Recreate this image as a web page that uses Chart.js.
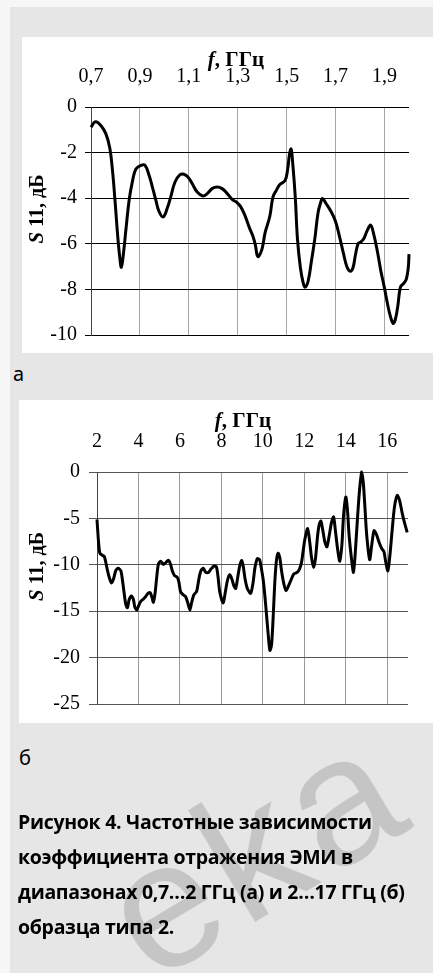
<!DOCTYPE html>
<html>
<head>
<meta charset="utf-8">
<script src="https://cdn.jsdelivr.net/npm/chart.js@4.4.1/dist/chart.umd.min.js"></script>
<style>
  html, body { margin: 0; padding: 0; }
  body { width: 433px; height: 973px; background: #f7f7f7; position: relative; overflow: hidden; }
  #page { position: absolute; left: 10px; top: 7px; right: 0; bottom: 0; background: #e6e6e6; }
  .panel { position: absolute; background: #fff; }
  #panelA { left: 22px; top: 37px; width: 411px; height: 316px; }
  #panelB { left: 19px; top: 400px; width: 414px; height: 323px; }
  #wm { position: absolute; left: 0; top: 0; }
  .sub { position: absolute; font-family: "Noto Sans"; font-size: 20px; line-height: 20px; color: #000; }
  #caption { position: absolute; left: 18px; top: 804px; font-family: "Open Sans"; font-weight: bold;
             font-size: 19.5px; line-height: 35px; letter-spacing: -0.3px; color: #000; white-space: nowrap; }
</style>
</head>
<body>
<div id="page"></div>
<div class="panel" id="panelA"><canvas id="chartA" width="411" height="316"></canvas></div>
<div class="sub" style="left:13px; top:364px;">а</div>
<div class="panel" id="panelB"><canvas id="chartB" width="414" height="323"></canvas></div>
<div class="sub" style="left:19px; top:748px;">б</div>
<canvas id="wm" width="433" height="973"></canvas>
<div id="caption">Рисунок 4. Частотные зависимости<br>коэффициента отражения ЭМИ в<br>диапазонах 0,7…2 ГГц (а) и 2…17 ГГц (б)<br>образца типа 2.</div>

<script>
// --- (а) 0,7…2 ГГц ---
const freqA = [0.700, 0.718, 0.741, 0.761, 0.777, 0.788, 0.799, 0.809, 0.818, 0.824, 0.832, 0.843, 0.856, 0.870, 0.883,
  0.904, 0.921, 0.938, 0.951, 0.965, 0.978, 0.995, 1.012, 1.026, 1.043, 1.062, 1.080, 1.098, 1.114, 1.134, 1.157,
  1.175, 1.195, 1.216, 1.236, 1.257, 1.277, 1.297, 1.311, 1.328, 1.347, 1.361, 1.372, 1.379, 1.385, 1.399, 1.412,
  1.431, 1.444, 1.458, 1.472, 1.493, 1.504, 1.511, 1.518, 1.525, 1.535, 1.544, 1.556, 1.567, 1.576, 1.588, 1.601,
  1.615, 1.628, 1.639, 1.646, 1.660, 1.681, 1.699, 1.715, 1.732, 1.747, 1.760, 1.771, 1.781, 1.792, 1.803, 1.815,
  1.829, 1.843, 1.854, 1.871, 1.885, 1.899, 1.913, 1.924, 1.935, 1.944, 1.954, 1.965, 1.979, 1.989, 1.997, 2.000];
const s11A = [-0.89, -0.65, -0.82, -1.18, -1.81, -2.80, -4.22, -5.64, -6.63, -7.03, -6.49, -5.35, -4.08, -3.23, -2.73,
  -2.56, -2.56, -3.02, -3.51, -4.08, -4.58, -4.82, -4.43, -3.94, -3.30, -2.99, -2.95, -3.09, -3.37, -3.73, -3.90,
  -3.80, -3.58, -3.51, -3.58, -3.80, -4.05, -4.19, -4.36, -4.72, -5.28, -5.64, -6.06, -6.49, -6.56, -6.23, -5.50,
  -4.79, -3.94, -3.65, -3.40, -3.23, -2.73, -2.10, -1.84, -2.52, -3.94, -5.78, -7.05, -7.69, -7.90, -7.62, -6.77,
  -5.78, -4.65, -4.19, -4.01, -4.22, -4.58, -5.00, -5.64, -6.42, -7.03, -7.20, -7.05, -6.49, -5.99, -5.92, -5.78,
  -5.42, -5.18, -5.50, -6.35, -7.20, -7.90, -8.68, -9.18, -9.49, -9.32, -8.75, -7.90, -7.73, -7.55, -7.05, -6.45];
const xTicksA = [0.7, 0.9, 1.1, 1.3, 1.5, 1.7, 1.9];
const xLabelsA = ['0,7', '0,9', '1,1', '1,3', '1,5', '1,7', '1,9'];
const yTicksA = [0, -2, -4, -6, -8, -10];
const yLabelsA = ['0', '-2', '-4', '-6', '-8', '-10'];

// --- (б) 2…17 ГГц ---
const freqB = [2.00, 2.03, 2.08, 2.14, 2.27, 2.35, 2.43, 2.51, 2.61, 2.70, 2.80, 2.90, 3.02, 3.15, 3.23, 3.31, 3.39,
  3.47, 3.55, 3.66, 3.76, 3.82, 3.92, 4.03, 4.11, 4.24, 4.35, 4.46, 4.56, 4.64, 4.72, 4.80, 4.88, 4.96, 5.07, 5.20,
  5.31, 5.44, 5.55, 5.63, 5.74, 5.87, 5.95, 6.03, 6.16, 6.27, 6.38, 6.48, 6.56, 6.67, 6.80, 6.85, 6.93, 7.01, 7.12,
  7.25, 7.38, 7.49, 7.65, 7.76, 7.84, 7.92, 8.08, 8.18, 8.29, 8.40, 8.50, 8.61, 8.69, 8.80, 8.90, 8.98, 9.06, 9.14,
  9.25, 9.41, 9.52, 9.62, 9.73, 9.84, 9.92, 10.02, 10.10, 10.18, 10.26, 10.34, 10.42, 10.50, 10.58, 10.66, 10.74,
  10.82, 10.90, 11.01, 11.12, 11.25, 11.38, 11.49, 11.65, 11.76, 11.86, 11.92, 12.03, 12.16, 12.26, 12.35, 12.45,
  12.54, 12.64, 12.72, 12.80, 12.88, 12.99, 13.09, 13.20, 13.31, 13.41, 13.49, 13.60, 13.71, 13.81, 13.89, 14.00,
  14.08, 14.16, 14.27, 14.37, 14.45, 14.56, 14.66, 14.77, 14.85, 14.93, 15.01, 15.15, 15.25, 15.36, 15.47, 15.60,
  15.73, 15.84, 15.92, 16.03, 16.13, 16.24, 16.35, 16.48, 16.59, 16.72, 16.83, 16.96];
const s11B = [-5.12, -6.15, -7.71, -8.75, -8.99, -9.09, -9.79, -10.65, -11.51, -11.96, -11.51, -10.65, -10.37, -10.65,
  -11.69, -13.07, -14.28, -14.63, -13.76, -13.35, -13.76, -14.52, -14.87, -14.28, -13.94, -13.69, -13.42, -13.07,
  -13.00, -13.42, -14.04, -13.07, -11.34, -9.96, -9.61, -9.96, -9.79, -9.51, -9.96, -10.65, -11.17, -11.34, -11.86,
  -12.90, -13.24, -13.42, -14.11, -14.87, -14.11, -13.24, -12.90, -12.38, -11.34, -10.65, -10.37, -10.82, -10.82,
  -10.48, -10.13, -10.24, -11.34, -12.90, -14.11, -13.07, -11.69, -11.06, -11.51, -12.31, -12.55, -11.17, -9.96,
  -9.54, -10.24, -11.51, -12.55, -13.07, -12.03, -10.30, -9.34, -9.44, -10.30, -11.69, -13.42, -15.49, -17.57,
  -19.23, -18.60, -15.49, -11.69, -9.44, -8.75, -9.27, -10.65, -12.03, -12.79, -12.20, -11.51, -11.00, -10.82,
  -10.48, -9.79, -8.90, -7.20, -6.09, -7.54, -9.27, -10.30, -9.27, -6.85, -5.64, -5.29, -6.15, -7.54, -8.06, -6.85,
  -5.46, -4.84, -6.15, -8.23, -9.61, -7.88, -4.77, -2.70, -4.08, -6.85, -9.27, -10.82, -8.92, -5.12, -2.01, 0.00,
  -1.31, -4.08, -6.85, -9.44, -7.88, -6.33, -6.68, -7.54, -8.23, -8.58, -9.61, -10.65, -8.92, -6.15, -3.73, -2.52,
  -3.04, -4.43, -5.46, -6.50];
const xTicksB = [2, 4, 6, 8, 10, 12, 14, 16];
const xLabelsB = ['2', '4', '6', '8', '10', '12', '14', '16'];
const yTicksB = [0, -5, -10, -15, -20, -25];
const yLabelsB = ['0', '-5', '-10', '-15', '-20', '-25'];

const SERIF = 'Liberation Serif';

function drawPieces(ctx, pieces, cx, cy) {
  let total = 0;
  pieces.forEach(p => { ctx.font = p[1]; total += ctx.measureText(p[0]).width; });
  let x = cx - total / 2;
  ctx.textBaseline = 'middle';
  ctx.textAlign = 'left';
  ctx.fillStyle = '#000';
  pieces.forEach(p => { ctx.font = p[1]; ctx.fillText(p[0], x, cy); x += ctx.measureText(p[0]).width; });
}

// axis titles with mixed italic/bold parts (f, ГГц and S 11, дБ)
const axisTitles = {
  id: 'axisTitles',
  afterDraw(chart, args, o) {
    const ctx = chart.ctx, a = chart.chartArea;
    ctx.save();
    drawPieces(ctx, [['f', 'italic bold 21px ' + SERIF], [', ГГц', 'bold 21px ' + SERIF]],
      (a.left + a.right) / 2 + o.xShift, o.xTop);
    ctx.translate(o.yLeft, (a.top + a.bottom) / 2 + o.yShift);
    ctx.rotate(-Math.PI / 2);
    drawPieces(ctx, [['S', 'italic bold 21px ' + SERIF], [' 11, дБ', 'bold 20px ' + SERIF]], 0, 0);
    ctx.restore();
  }
};

function makeChart(id, freq, s11, c) {
  return new Chart(document.getElementById(id), {
    type: 'line',
    data: {
      datasets: [{
        data: freq.map((f, i) => ({ x: f, y: s11[i] })),
        borderColor: '#000',
        borderWidth: c.lineWidth,
        pointRadius: 0,
        tension: c.tension,
        fill: false,
        clip: 4
      }]
    },
    options: {
      responsive: false,
      animation: false,
      events: [],
      layout: { padding: { left: 0, top: 0, right: c.padRight, bottom: 10 } },
      plugins: {
        legend: { display: false },
        tooltip: { enabled: false },
        axisTitles: c.titles
      },
      scales: {
        x: {
          type: 'linear',
          position: 'top',
          min: c.xMin,
          max: c.xMax,
          afterBuildTicks: s => { s.ticks = c.xTicks.map(v => ({ value: v })); },
          afterFit: s => { s.height = c.topH; },
          ticks: {
            callback: (v, i) => c.xLabels[i],
            font: { family: SERIF, size: 20 },
            color: '#000',
            padding: 18,
            maxRotation: 0,
            autoSkip: false
          },
          grid: { color: c.vGrid, drawTicks: false, lineWidth: 1 },
          border: { display: false }
        },
        y: {
          type: 'linear',
          min: c.yMin,
          max: 0,
          afterBuildTicks: s => { s.ticks = c.yTicks.map(v => ({ value: v })); },
          afterFit: s => { s.width = c.leftW; },
          ticks: {
            callback: (v, i) => c.yLabels[i],
            font: { family: SERIF, size: 20, lineHeight: 1 },
            color: '#000',
            padding: c.yPad
          },
          grid: { color: c.hGrid, tickLength: c.tickLen, lineWidth: 1 },
          border: { display: true, color: '#444', width: 1 }
        }
      }
    },
    plugins: [axisTitles]
  });
}

makeChart('chartA', freqA, s11A, {
  xMin: 0.7, xMax: 2.0, yMin: -10,
  xTicks: xTicksA, xLabels: xLabelsA, yTicks: yTicksA, yLabels: yLabelsA,
  topH: 70, leftW: 69, padRight: 24, tickLen: 6, yPad: 8,
  vGrid: '#a6a6a6', hGrid: '#000', lineWidth: 3, tension: 0.4,
  titles: { xShift: -14, xTop: 24, yLeft: 16, yShift: -12 }
});

makeChart('chartB', freqB, s11B, {
  xMin: 2, xMax: 17, yMin: -25,
  xTicks: xTicksB, xLabels: xLabelsB, yTicks: yTicksB, yLabels: yLabelsB,
  topH: 72, leftW: 78, padRight: 25, tickLen: 8, yPad: 9,
  vGrid: '#9a9a9a', hGrid: '#555', lineWidth: 3, tension: 0.25,
  titles: { xShift: -9.5, xTop: 22, yLeft: 19, yShift: -21.5 }
});

// faint diagonal watermark of the source page
const wm = document.getElementById('wm').getContext('2d');
wm.save();
wm.translate(152, 984);
wm.rotate(-31 * Math.PI / 180);
wm.font = '180px "Liberation Sans"';
wm.fillStyle = 'rgba(0,0,0,0.14)';
let wx = 0;
for (const ch of 'eka') {
  wm.fillText(ch, wx, 0);
  wx += wm.measureText(ch).width + 8;
}
wm.restore();
</script>
</body>
</html>
